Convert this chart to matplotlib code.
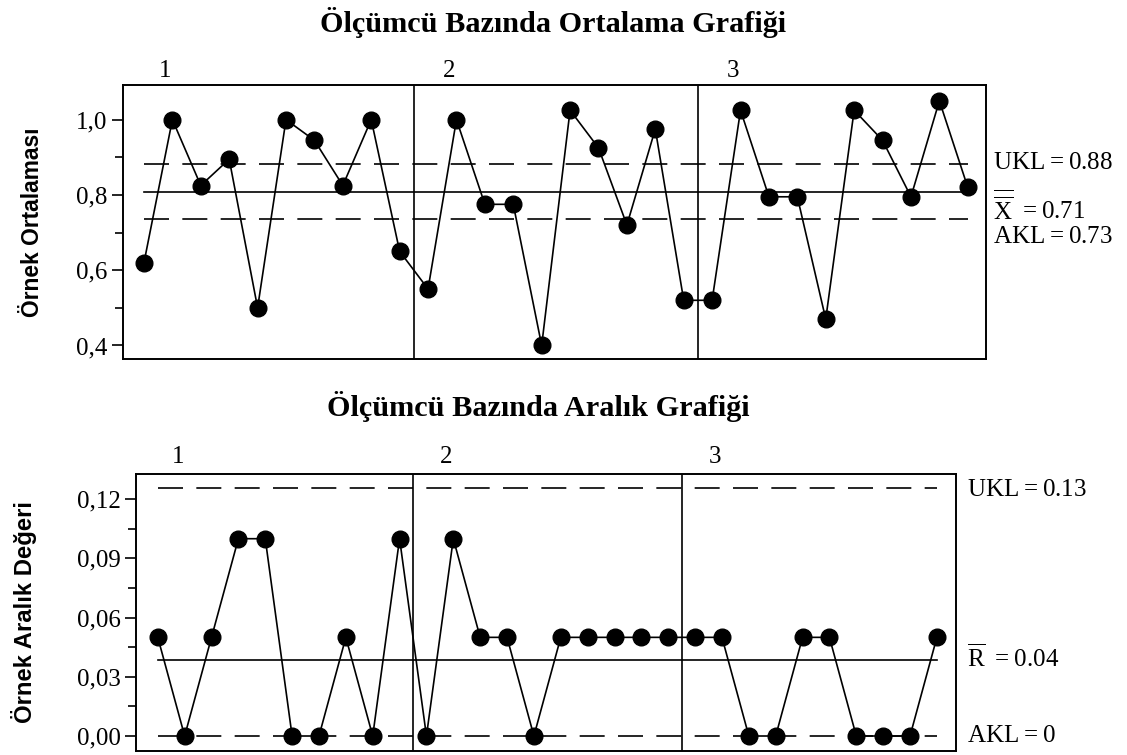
import numpy as np
import matplotlib.pyplot as plt
from matplotlib.ticker import FixedLocator, MultipleLocator, FuncFormatter

plt.rcParams['font.family'] = ['Liberation Serif', 'DejaVu Serif']
plt.rcParams['mathtext.fontset'] = 'custom'
plt.rcParams['mathtext.rm'] = 'Liberation Serif'

# ölçümcü grupları (her biri 10 örnek)
operators = ["1", "2", "3"]
n_per_op = 10

xbar = [0.62, 1.00, 0.825, 0.895, 0.50, 1.00, 0.945, 0.825, 1.00, 0.65,
        0.55, 1.00, 0.775, 0.775, 0.40, 1.025, 0.925, 0.72, 0.975, 0.52,
        0.52, 1.025, 0.795, 0.795, 0.47, 1.025, 0.945, 0.795, 1.05, 0.82]
xbar_ukl, xbar_cl, xbar_akl = 0.882, 0.808, 0.735
xbar_labels = ["UKL$=$0.88", r"$\overline{\overline{\mathrm{X}}}$ $=$0.71", "AKL$=$0.73"]

rng = [0.05, 0.00, 0.05, 0.10, 0.10, 0.00, 0.00, 0.05, 0.00, 0.10,
       0.00, 0.10, 0.05, 0.05, 0.00, 0.05, 0.05, 0.05, 0.05, 0.05,
       0.05, 0.05, 0.00, 0.00, 0.05, 0.05, 0.00, 0.00, 0.00, 0.05]
r_ukl, r_cl, r_akl = 0.1255, 0.0385, 0.0
r_labels = ["UKL$=$0.13", r"$\overline{\mathrm{R}}$ $=$0.04", "AKL$=$0"]

x = np.arange(1, len(xbar) + 1)

fig = plt.figure(figsize=(11.27, 7.55), dpi=100)
ax1 = fig.add_axes([0.1091, 0.5245, 0.7655, 0.3629])
ax2 = fig.add_axes([0.1207, 0.0053, 0.7273, 0.3669])

def draw(ax, vals, ukl, cl, akl, ylim, major, minor, fmt, labels, label_y, xr, glab_pad, lab_x):
    ax.plot(x, vals, color="black", lw=1.2, marker="o", ms=12, zorder=3)
    ax.plot([x[0], x[-1]], [cl, cl], color="black", lw=1.2)
    for v in (ukl, akl):
        ax.plot([x[0], x[-1]], [v, v], color="black", lw=1.2, dashes=(15, 8))
    for k in range(1, len(operators)):
        ax.axvline(k * n_per_op + 0.5, color="black", lw=1.2)
    ax.set_xlim(*xr)
    ax.set_ylim(*ylim)
    ax.set_xticks([])
    ax.yaxis.set_major_locator(FixedLocator(major))
    ax.yaxis.set_minor_locator(MultipleLocator(minor))
    ax.yaxis.set_major_formatter(FuncFormatter(fmt))
    ax.tick_params(axis="y", which="major", length=8, width=1.2, labelsize=18, pad=3)
    ax.tick_params(axis="y", which="minor", length=6, width=1.2)
    for s in ax.spines.values():
        s.set_linewidth(1.4)
    for lab, yy in zip(labels, label_y):
        ax.text(lab_x, yy, lab, transform=ax.get_yaxis_transform(), fontsize=18,
                va="center", ha="left")
    for i, op in enumerate(operators):
        ax.text(i * n_per_op + 1.75, 1.0 + glab_pad, op, transform=ax.get_xaxis_transform(),
                fontsize=18, ha="center", va="bottom")

draw(ax1, xbar, xbar_ukl, xbar_cl, xbar_akl, (0.364, 1.092),
     [0.4, 0.6, 0.8, 1.0], 0.1, lambda v, p: f"{v:.1f}".replace(".", ","),
     xbar_labels, [0.884, 0.768, 0.688], (0.26, 30.63), 0.012, 1.008)
draw(ax2, rng, r_ukl, r_cl, r_akl, (-0.0076, 0.1328),
     [0.0, 0.03, 0.06, 0.09, 0.12], 0.015, lambda v, p: f"{v:.2f}".replace(".", ","),
     r_labels, [0.1247, 0.0395, 0.0], (0.19, 30.7), 0.02, 1.014)

ax1.set_ylabel("Örnek Ortalaması", fontfamily="Liberation Sans", fontweight="bold",
               fontsize=16.4)
ax2.set_ylabel("Örnek Aralık Değeri", fontfamily="Liberation Sans", fontweight="bold",
               fontsize=17.2)
ax1.yaxis.set_label_coords(-0.092, 0.5)
ax2.yaxis.set_label_coords(-0.121, 0.5)

fig.text(0.4907, 1 - 22 / 755, "Ölçümcü Bazında Ortalama Grafiği", fontsize=21.8,
         fontweight="bold", ha="center", va="center")
fig.text(0.4774, 1 - 407 / 755, "Ölçümcü Bazında Aralık Grafiği", fontsize=21.8,
         fontweight="bold", ha="center", va="center")

fig.savefig("out.png", dpi=100)
